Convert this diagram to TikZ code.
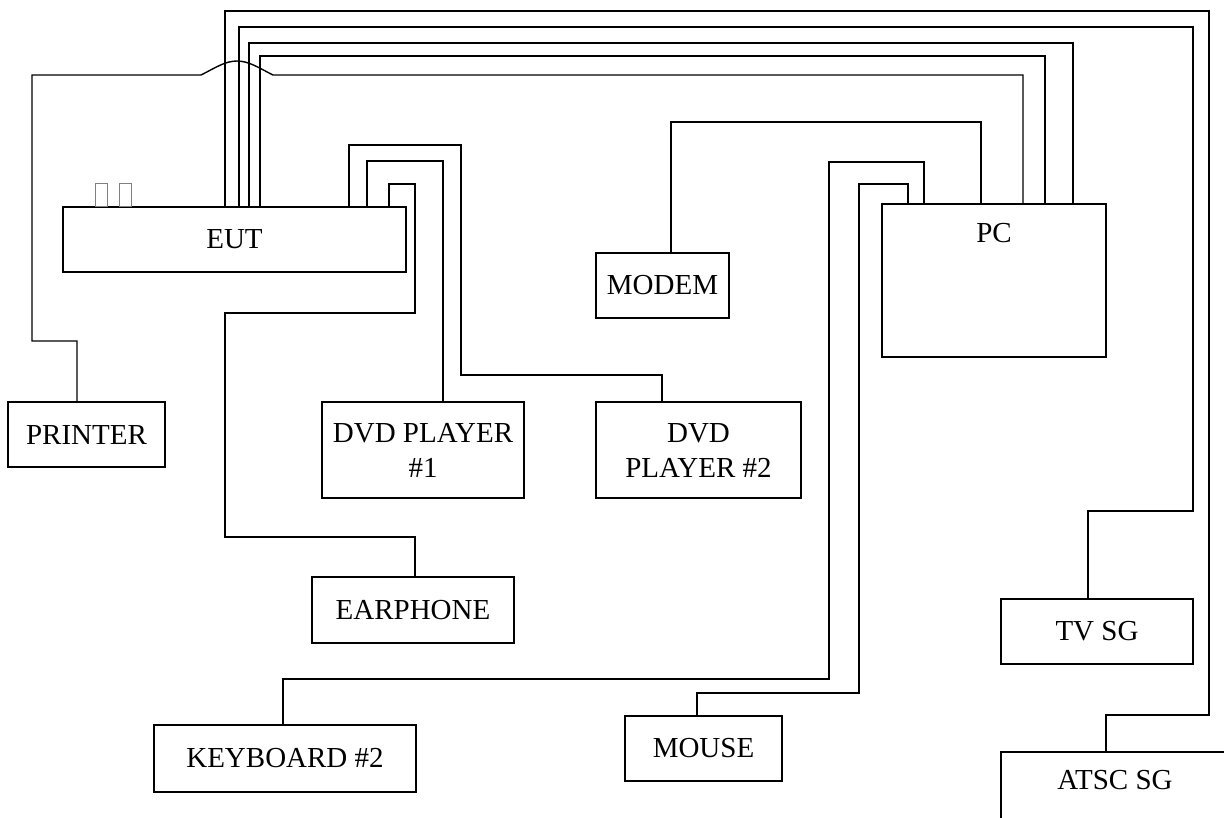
\documentclass[tikz,border=0pt]{standalone}
\usepackage{fontspec}
\setmainfont{Liberation Serif}
\usetikzlibrary{positioning}

\begin{document}
\begin{tikzpicture}[
  x=1pt,y=-1pt,
  box/.style={draw=black,line width=1.6pt,rectangle,anchor=north west,inner sep=0pt,
              outer sep=0pt,align=center,font=\fontsize{29}{35}\selectfont},
  caption/.style={font=\fontsize{29}{35}\selectfont},
  port/.style={draw=gray,line width=0.9pt,anchor=south west,inner sep=0pt,
               minimum width=12pt,minimum height=23pt},
  wire/.style={line width=1.4pt,line join=miter}
]
  \useasboundingbox (0,0) rectangle (1224,817);

  % Units
  \node[box,minimum width=343pt,minimum height=65pt] (eut) at (63,207) {EUT};
  \node[port] (jack1) at (95,0 |- eut.north) {};
  \node[port] (jack2) at (119,0 |- eut.north) {};
  \node[box,minimum width=224pt,minimum height=153pt] (pc) at (882,204) {};
  \node[caption,below=16pt of pc.north] (pctext) {PC};
  \node[box,minimum width=133pt,minimum height=65pt] (modem) at (596,253) {MODEM};

  % Peripherals
  \node[box,minimum width=157pt,minimum height=65pt] (printer)  at (8,402)   {PRINTER};
  \node[box,minimum width=202pt,minimum height=96pt] (dvd1)     at (322,402) {DVD PLAYER\\\#1};
  \node[box,minimum width=205pt,minimum height=96pt] (dvd2)     at (596,402) {DVD\\PLAYER \#2};
  \node[box,minimum width=202pt,minimum height=66pt] (earphone) at (312,577) {EARPHONE};
  \node[box,minimum width=262pt,minimum height=67pt] (keyboard) at (154,725) {KEYBOARD \#2};
  \node[box,minimum width=157pt,minimum height=65pt,text width=145pt] (mouse) at (625,716) {MOUSE};
  \node[box,minimum width=192pt,minimum height=65pt] (tvsg)     at (1001,599) {TV SG};
  \node[box,minimum width=228pt,minimum height=100pt] (atsc)    at (1001,752) {};
  \node[caption,below=15pt of atsc.north] (atsctext) {ATSC SG};

  % EUT to signal generators and PC
  \draw[wire] (225,0 |- eut.north) |- (1209,11) |- (1106,715) -- (1106,0 |- atsc.north);
  \draw[wire] (239,0 |- eut.north) |- (1193,27) |- (1088,511) -- (1088,0 |- tvsg.north);
  \draw[wire] (249,0 |- eut.north) |- (1073,43) -- (1073,0 |- pc.north);
  \draw[wire] (260,0 |- eut.north) |- (1045,56) -- (1045,0 |- pc.north);

  % Printer to PC, hopping over the EUT cables
  \draw[wire] (77,0 |- printer.north) |- (32,341) |- (201,75)
    .. controls (215,68) and (225,61) .. (237,61)
    .. controls (249,61) and (259,68) .. (273,75) -| (1023,0 |- pc.north);

  % Modem, keyboard, mouse to PC
  \draw[wire] (671,0 |- modem.north) |- (981,122) -- (981,0 |- pc.north);
  \draw[wire] (283,0 |- keyboard.north) |- (829,679) |- (924,162) -- (924,0 |- pc.north);
  \draw[wire] (697,0 |- mouse.north) |- (859,693) |- (908,184) -- (908,0 |- pc.north);

  % EUT to DVD players and earphone
  \draw[wire] (349,0 |- eut.north) |- (461,145) |- (662,375) -- (662,0 |- dvd2.north);
  \draw[wire] (367,0 |- eut.north) |- (443,161) -- (443,0 |- dvd1.north);
  \draw[wire] (389,0 |- eut.north) |- (415,184) |- (225,313) |- (415,537) -- (415,0 |- earphone.north);
\end{tikzpicture}
\end{document}
